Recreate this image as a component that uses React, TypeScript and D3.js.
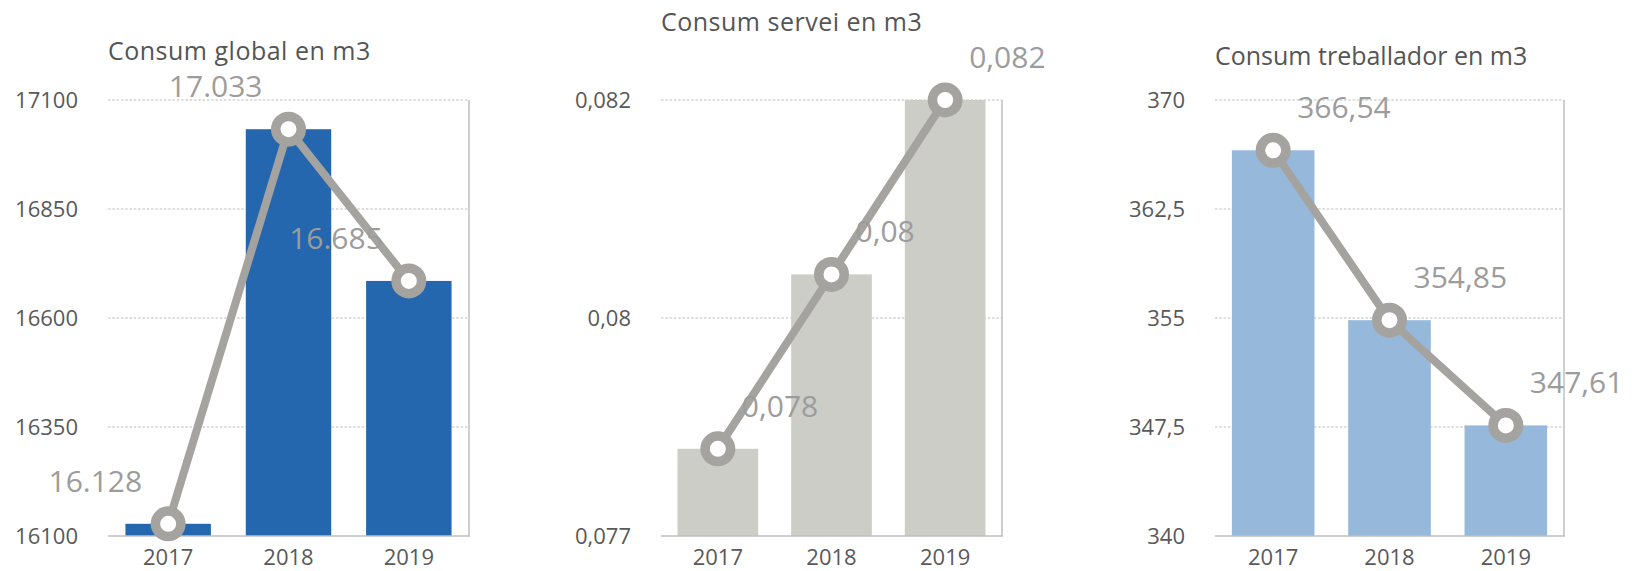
import { useEffect, useRef } from 'react';
import * as d3 from 'd3';

const years = ['2017', '2018', '2019'];

const globalValues = [16128, 17033, 16685];
const globalLabels = ['16.128', '17.033', '16.685'];
const globalTicks = [16100, 16350, 16600, 16850, 17100];
const globalTickLabels = ['16100', '16350', '16600', '16850', '17100'];

const serveiValues = [0.078, 0.08, 0.082];
const serveiLabels = ['0,078', '0,08', '0,082'];
const serveiTicks = [0.077, 0.0795, 0.082];
const serveiTickLabels = ['0,077', '0,08', '0,082'];

const treballadorValues = [366.54, 354.85, 347.61];
const treballadorLabels = ['366,54', '354,85', '347,61'];
const treballadorTicks = [340, 347.5, 355, 362.5, 370];
const treballadorTickLabels = ['340', '347,5', '355', '362,5', '370'];

const FONT = '"Open Sans", sans-serif';
const LINE_COLOR = '#a5a3a0';

interface Panel {
  title: string;
  values: number[];
  labels: string[];
  ticks: number[];
  tickLabels: string[];
  x0: number;
  x1: number;
  titleY: number;
  titleSpacing: number;
  barColor: string;
  labelAnchor: 'start' | 'end';
  labelDx: number;
}

const panels: Panel[] = [
  {
    title: 'Consum global en m3', values: globalValues, labels: globalLabels,
    ticks: globalTicks, tickLabels: globalTickLabels,
    x0: 108, x1: 469, titleY: 60, titleSpacing: 0.5, barColor: '#2467ae', labelAnchor: 'end', labelDx: -26,
  },
  {
    title: 'Consum servei en m3', values: serveiValues, labels: serveiLabels,
    ticks: serveiTicks, tickLabels: serveiTickLabels,
    x0: 661, x1: 1002, titleY: 31, titleSpacing: 0.5, barColor: '#cdcdc8', labelAnchor: 'start', labelDx: 24,
  },
  {
    title: 'Consum treballador en m3', values: treballadorValues, labels: treballadorLabels,
    ticks: treballadorTicks, tickLabels: treballadorTickLabels,
    x0: 1215, x1: 1564, titleY: 65, titleSpacing: 0, barColor: '#95b8db', labelAnchor: 'start', labelDx: 24,
  },
];

export default function App() {
  const svgRef = useRef<SVGSVGElement>(null);

  useEffect(() => {
    if (!svgRef.current) return;
    const svg = d3.select(svgRef.current);
    svg.selectAll('*').remove();

    const top = 100;
    const bottom = 536;

    panels.forEach(p => {
      const g = svg.append('g');

      const x = d3.scaleBand<string>()
        .domain(years)
        .range([p.x0, p.x1])
        .paddingInner(0.29)
        .paddingOuter(0.145);

      const y = d3.scaleLinear()
        .domain([p.ticks[0], p.ticks[p.ticks.length - 1]])
        .range([bottom, top]);

      // titol
      g.append('text')
        .attr('x', p.x0)
        .attr('y', p.titleY)
        .attr('font-family', FONT)
        .attr('font-size', 25)
        .attr('letter-spacing', p.titleSpacing)
        .attr('fill', '#555')
        .text(p.title);

      // graella
      g.selectAll('.grid')
        .data(p.ticks.slice(1))
        .enter()
        .append('line')
        .attr('x1', p.x0)
        .attr('x2', p.x1)
        .attr('y1', d => y(d))
        .attr('y2', d => y(d))
        .attr('stroke', '#bdbdbd')
        .attr('stroke-width', 1.2)
        .attr('stroke-dasharray', '2.5,1.8');

      // etiquetes eix Y
      g.selectAll('.ytick')
        .data(p.ticks)
        .enter()
        .append('text')
        .attr('x', p.x0 - 30)
        .attr('y', d => y(d))
        .attr('dy', '0.35em')
        .attr('text-anchor', 'end')
        .attr('font-family', FONT)
        .attr('font-size', 22)
        .attr('fill', '#595959')
        .text((_, i) => p.tickLabels[i]);

      // barres
      g.selectAll('.bar')
        .data(p.values)
        .enter()
        .append('rect')
        .attr('x', (_, i) => x(years[i]) as number)
        .attr('y', d => y(d))
        .attr('width', x.bandwidth())
        .attr('height', d => bottom - y(d))
        .attr('fill', p.barColor);

      // eixos
      g.append('line')
        .attr('x1', p.x0).attr('x2', p.x1 + 1)
        .attr('y1', bottom).attr('y2', bottom)
        .attr('stroke', '#bfbfbf').attr('stroke-width', 1.5);
      g.append('line')
        .attr('x1', p.x1).attr('x2', p.x1)
        .attr('y1', top).attr('y2', bottom)
        .attr('stroke', '#bfbfbf').attr('stroke-width', 1.5);

      // etiquetes eix X
      g.selectAll('.xtick')
        .data(years)
        .enter()
        .append('text')
        .attr('x', d => (x(d) as number) + x.bandwidth() / 2)
        .attr('y', 565)
        .attr('text-anchor', 'middle')
        .attr('font-family', FONT)
        .attr('font-size', 22)
        .attr('fill', '#595959')
        .text(d => d);

      // linia
      const cx = (i: number) => (x(years[i]) as number) + x.bandwidth() / 2;
      const line = d3.line<number>()
        .x((_, i) => cx(i))
        .y(d => y(d));

      g.append('path')
        .datum(p.values)
        .attr('fill', 'none')
        .attr('stroke', LINE_COLOR)
        .attr('stroke-width', 8)
        .attr('stroke-linejoin', 'round')
        .attr('d', line);

      g.selectAll('.marker')
        .data(p.values)
        .enter()
        .append('circle')
        .attr('cx', (_, i) => cx(i))
        .attr('cy', d => y(d))
        .attr('r', 12.75)
        .attr('fill', '#fff')
        .attr('stroke', LINE_COLOR)
        .attr('stroke-width', 9.5);

      // etiquetes de dades
      g.selectAll('.dlabel')
        .data(p.values)
        .enter()
        .append('text')
        .attr('x', (_, i) => cx(i) + p.labelDx)
        .attr('y', d => y(d) - 32)
        .attr('text-anchor', p.labelAnchor)
        .attr('font-family', FONT)
        .attr('font-size', 30)
        .attr('fill', '#9c9c9c')
        .text((_, i) => p.labels[i]);
    });
  }, []);

  return (
    <div style={{ position: 'absolute', left: 0, top: 0, width: 1641, height: 571, background: '#fff' }}>
      <svg ref={svgRef} width={1641} height={571} />
    </div>
  );
}
